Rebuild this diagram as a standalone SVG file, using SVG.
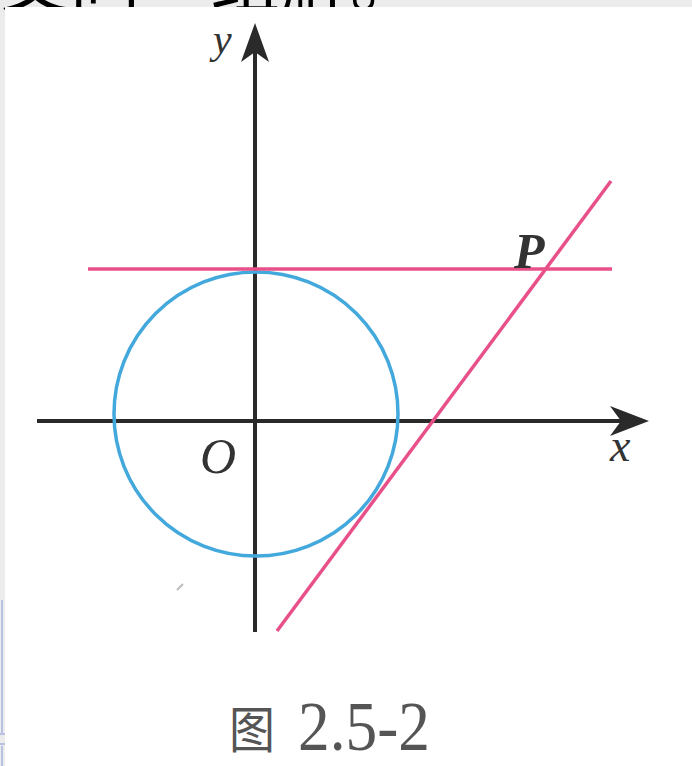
<svg xmlns="http://www.w3.org/2000/svg" width="692" height="766" viewBox="0 0 692 766">
<style>
.axis{stroke:#2a2a2a;stroke-width:4;fill:none}
.arrow{fill:#2a2a2a}
.pink{stroke:#e8508a;stroke-width:3.5;fill:none}
.circle{stroke:#43a8dc;stroke-width:3.5;fill:none}
.lbl{font-family:"Liberation Serif","DejaVu Serif",serif;font-style:italic;fill:#333}
.cap{fill:#555}
</style>
<rect x="0" y="0" width="692" height="766" fill="#ececec"/>
<text x="0" y="7" font-family="'Noto Sans CJK SC',sans-serif" font-size="70" fill="#000">交同一组解。</text>
<rect x="5" y="7" width="687" height="759" fill="#ffffff"/>
<g id="left-edge" stroke="#b9c1e3" stroke-width="2" fill="none">
<line x1="2" y1="600" x2="2" y2="733"/>
<line x1="0" y1="734" x2="5" y2="734"/>
<line x1="0" y1="744" x2="5" y2="744"/>
<line x1="2" y1="746" x2="2" y2="766"/>
</g>
<line x1="177" y1="590" x2="183" y2="584" stroke="#bbb" stroke-width="2"/>
<g id="x-axis">
<line class="axis" x1="37" y1="421" x2="622" y2="421"/>
<polygon class="arrow" points="649,421 610,406 621,421 610,436"/>
<text class="lbl" x="610" y="461" font-size="46">x</text>
</g>
<g id="y-axis">
<line class="axis" x1="255" y1="50" x2="255" y2="632"/>
<polygon class="arrow" points="255,23 241,62 255,52 269,62"/>
<text class="lbl" x="213" y="53" font-size="42">y</text>
</g>
<g id="circle">
<circle class="circle" cx="256" cy="414" r="142"/>
</g>
<g id="origin">
<text class="lbl" x="200" y="473" font-size="50">O</text>
</g>
<g id="connectors">
<line class="pink" x1="88" y1="269" x2="612" y2="269"/>
<line class="pink" x1="611" y1="181" x2="277" y2="631"/>
</g>
<g id="point-P">
<text class="lbl" x="514" y="268" font-size="50" font-weight="bold">P</text>
</g>
<g id="caption">
<text class="cap" x="229" y="748" font-family="'Noto Sans CJK SC',sans-serif" font-size="50" textLength="46" lengthAdjust="spacingAndGlyphs">图</text>
<text class="cap" x="298" y="750" font-family="'Liberation Serif',serif" font-size="69" textLength="132" lengthAdjust="spacingAndGlyphs">2.5-2</text>
</g>
</svg>
